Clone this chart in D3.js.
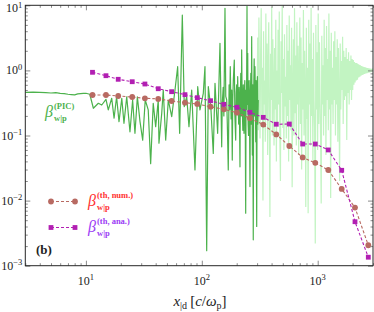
<!DOCTYPE html>
<html>
<head>
<meta charset="utf-8">
<script src="https://cdn.jsdelivr.net/npm/d3@7"></script>
<style>
  body { margin: 0; background: #fff; }
  svg { display: block; }
</style>
</head>
<body>
<div id="chart"></div>
<script>
// theory curves (same x grid)
const xTheory = [11.4, 14.9, 19.0, 25.1, 32.3, 42.1, 54.9, 71.6, 91.4, 119, 155, 201, 260, 339, 439, 569, 742, 953, 1234, 1611, 2098, 2733];
const betaNum = [0.419, 0.419, 0.404, 0.390, 0.373, 0.364, 0.339, 0.319, 0.305, 0.277, 0.253, 0.224, 0.184, 0.147, 0.104, 0.069, 0.046, 0.038, 0.0295, 0.0151, 0.0078, 0.00206];
const betaAna = [0.935, 0.829, 0.730, 0.670, 0.618, 0.523, 0.471, 0.424, 0.381, 0.342, 0.301, 0.271, 0.227, 0.190, 0.149, 0.150, 0.074, 0.074, 0.060, 0.0292, 0.00474, 0.00135];

// PIC, dark part (x < ~300)
const picDarkX = [3, 3.5, 4, 4.5, 5, 5.5, 6, 6.5, 7, 7.5, 8, 8.5, 9, 9.5, 10, 10.8,
  11.6, 12.8, 13.7, 14.9, 15.6, 16.7, 17.5, 18.4, 19.3, 20.4,
  21.3, 22.5, 24.0, 25.3, 26.5, 27.8, 29.3, 30.9, 32.5, 34.5,
  36.2, 38.1, 40.0, 42.1, 42.7, 45.1, 46.5, 48.8, 51.4, 55.0,
  58.7, 61.9, 64.4, 67.9, 70.6, 74.1, 77.5, 81.8, 87.3, 92.2,
  96.4, 103, 106.5, 110.2, 113.8, 120, 125.6, 130, 137, 143.5,
  148.5, 150, 153, 155, 158.5, 161, 164, 166, 169.2, 172,
  174, 176.1, 179, 181, 183.2, 185, 187, 190.7, 193, 196.1,
  198, 200, 202, 204, 206, 208, 210, 213.5, 215, 217,
  219, 220.8, 223, 226, 228, 231.2, 233, 235, 237, 239.2,
  241, 243, 245.5, 247, 249, 251, 253, 254.5, 256, 258,
  260.4, 262.5, 265, 267, 269.4, 271, 273, 275, 278, 280,
  283, 285, 287.7, 290, 292, 294, 297.6, 300, 302, 304, 307];
const picDarkY = [0.46, 0.465, 0.46, 0.455, 0.45, 0.455, 0.445, 0.44, 0.43, 0.425, 0.42, 0.435, 0.44, 0.445, 0.445, 0.43,
  0.262, 0.313, 0.294, 0.36, 0.247, 0.373, 0.184, 0.394, 0.163, 0.373,
  0.154, 0.394, 0.114, 0.351, 0.108, 0.394, 0.163, 0.085, 0.351, 0.247,
  0.037, 0.313, 0.137, 0.351, 0.076, 0.219, 0.5, 0.085, 0.351, 0.195,
  0.5, 1.14, 0.108, 7.1, 0.277, 0.394, 0.137, 0.5, 0.0295, 0.562,
  0.247, 0.445, 1.14, 0.0017, 0.562, 0.247, 0.053, 0.634, 0.108, 2.61,
  0.067, 0.3, 0.55, 0.2, 9.0, 0.4, 0.351, 0.15, 0.0295, 0.6,
  0.25, 1.14, 0.18, 0.5, 0.042, 0.35, 0.7, 1.445, 0.2, 0.085,
  0.45, 0.6, 0.25, 0.8, 0.3, 0.15, 0.55, 0.033, 0.4, 0.9,
  0.2, 2.06, 0.3, 0.12, 0.6, 0.108, 0.45, 0.7, 0.2, 0.0064,
  0.5, 0.25, 9.6, 0.3, 1.83, 0.15, 0.1, 0.6, 0.7, 0.2,
  0.0164, 0.45, 0.9, 0.15, 3.3, 0.3, 0.05, 0.6, 0.0025, 0.4,
  1.5, 0.2, 1.14, 0.35, 0.08, 0.7, 0.004, 0.5, 0.8, 0.15, 0.351];

// PIC, light part (x > ~300)
const picLightX = [300, 303.5, 307, 311, 314.5, 318, 322, 325.5, 329.5, 333,
  337, 341, 345, 349, 353, 357, 361, 365, 370, 374,
  378, 383, 387, 392, 396, 401, 406, 410, 415, 420,
  425, 430, 435, 440, 445, 450, 455, 461, 466, 471,
  477, 483, 488, 494, 500, 505, 511, 517, 523, 530,
  536, 542, 548, 555, 561, 568, 575, 581, 588, 595,
  602, 609, 617, 624, 631, 639, 646, 654, 661, 669,
  677, 685, 693, 701, 710, 718, 727, 735, 744, 753,
  762, 771, 780, 789, 798, 808, 817, 827, 837, 847,
  857, 867, 877, 888, 898, 909, 920, 930, 941, 953,
  964, 975, 987, 999, 1010, 1022, 1035, 1047, 1059, 1072,
  1085, 1097, 1110, 1124, 1137, 1150, 1164, 1178, 1192, 1206,
  1220, 1235, 1249, 1264, 1279, 1294, 1310, 1325, 1341, 1357,
  1373, 1390, 1406, 1423, 1440, 1457, 1474, 1492, 1509, 1527,
  1545, 1564, 1582, 1601, 1620, 1640, 1659, 1679, 1699, 1719,
  1740, 1760, 1781, 1802, 1824, 1846, 1868, 1890, 1912, 1935,
  1958, 1981, 2005, 2029, 2053, 2077, 2102, 2127, 2152, 2178,
  2204, 2230, 2257, 2283, 2311, 2338, 2366, 2394, 2423, 2451,
  2481, 2510, 2540, 2570, 2601, 2632, 2663, 2695, 2727, 2760,
  2792, 2826, 2859, 2894, 2928, 2963, 3000];
const picLightY = [0.35, 3.2, 0.12, 6.5, 0.4, 0.09, 2.1, 9.0, 0.2, 1.1,
  0.010, 4.0, 0.3, 0.7, 0.08, 7.5, 0.18, 2.6, 0.05, 1.4,
  5.5, 0.14, 0.0056, 1.8, 0.35, 9.5, 0.1, 3.0, 0.6, 0.07,
  2.2, 0.25, 6.0, 0.04, 1.0, 0.16, 4.2, 0.3, 8.0, 0.11,
  0.02, 2.8, 0.45, 9.8, 0.13, 1.5, 0.06, 3.6, 0.28, 0.8,
  0.09, 5.0, 0.2, 2.0, 0.04, 7.0, 0.35, 1.2, 0.12, 4.5,
  0.016, 0.5, 3.0, 0.1, 9.0, 0.22, 1.7, 0.07, 5.5, 0.3,
  2.4, 0.05, 0.9, 6.5, 0.15, 3.2, 0.03, 1.3, 0.25, 8.5,
  0.1, 2.0, 0.4, 0.008, 4.5, 0.18, 1.1, 0.0064, 6.0, 0.3,
  2.6, 0.07, 9.2, 0.2, 1.5, 0.04, 3.8, 0.35, 0.12, 0.0022,
  5.0, 0.25, 1.9, 0.06, 7.5, 0.15, 2.7, 0.4, 0.09, 0.009,
  3.4, 0.3, 1.2, 0.1, 6.0, 0.2, 2.2, 0.05, 4.8, 0.35,
  1.5, 0.12, 7.5, 0.25, 2.0, 0.011, 3.8, 0.3, 1.1, 0.15,
  2.8, 0.35, 4.0, 0.1, 1.6, 0.3, 3.0, 0.08, 2.2, 0.4,
  0.02, 2.6, 0.25, 1.4, 0.5, 3.3, 0.15, 2.0, 0.35, 1.6,
  0.4, 2.2, 0.085, 1.5, 0.45, 1.9, 0.3, 1.4, 0.5, 1.7,
  0.35, 1.5, 0.5, 1.45, 0.6, 1.35, 0.65, 1.3, 0.7, 1.3,
  0.72, 1.25, 0.78, 1.22, 0.8, 1.2, 0.83, 1.17, 0.85, 1.15,
  0.87, 1.13, 0.88, 1.12, 0.9, 1.1, 0.91, 1.09, 0.92, 1.08,
  0.93, 1.07, 0.94, 1.06, 0.95, 1.04, 1.0];

const xMajor = [10, 100, 1000];
const xMajorExp = ["1", "2", "3"];
const yMajor = [0.001, 0.01, 0.1, 1, 10];
const yMajorExp = ["\u22123", "\u22122", "\u22121", "0", "1"];

const width = 374, height = 312;
const plotLeft = 25.3, plotRight = 373, plotTop = 5.3, plotBottom = 265.7;

const svg = d3.select("#chart").append("svg")
    .attr("width", width)
    .attr("height", height);

const x = d3.scaleLog().domain([3, 3000]).range([plotLeft, plotRight]);
const y = d3.scaleLog().domain([0.001, 10]).range([plotBottom, plotTop]);

svg.append("clipPath").attr("id", "clip")
    .append("rect")
    .attr("x", plotLeft).attr("y", plotTop)
    .attr("width", plotRight - plotLeft).attr("height", plotBottom - plotTop);

const plot = svg.append("g").attr("clip-path", "url(#clip)");

const line = d3.line().x(d => x(d[0])).y(d => y(d[1]));

plot.append("path")
    .datum(d3.zip(picLightX, picLightY))
    .attr("d", line)
    .attr("fill", "none")
    .attr("stroke", "#c2f4c2")
    .attr("stroke-width", 1.2);

plot.append("path")
    .datum(d3.zip(picDarkX, picDarkY))
    .attr("d", line)
    .attr("fill", "none")
    .attr("stroke", "#4cb24c")
    .attr("stroke-width", 1.2)
    .attr("stroke-linejoin", "round");

const numColor = "#b86a62", anaColor = "#b21fb2";

plot.append("path")
    .datum(d3.zip(xTheory, betaNum))
    .attr("d", line)
    .attr("fill", "none")
    .attr("stroke", numColor)
    .attr("stroke-width", 1.1)
    .attr("stroke-dasharray", "3,2");

plot.selectAll(".num").data(d3.zip(xTheory, betaNum)).enter()
    .append("circle")
    .attr("cx", d => x(d[0]))
    .attr("cy", d => y(d[1]))
    .attr("r", 2.9)
    .attr("fill", numColor);

plot.append("path")
    .datum(d3.zip(xTheory, betaAna))
    .attr("d", line)
    .attr("fill", "none")
    .attr("stroke", anaColor)
    .attr("stroke-width", 1.1)
    .attr("stroke-dasharray", "3,2");

plot.selectAll(".ana").data(d3.zip(xTheory, betaAna)).enter()
    .append("rect")
    .attr("x", d => x(d[0]) - 2.4)
    .attr("y", d => y(d[1]) - 2.4)
    .attr("width", 4.8)
    .attr("height", 4.8)
    .attr("fill", anaColor);

// axes: inward ticks on all four sides
const xMinor = x.ticks().filter(v => xMajor.indexOf(v) < 0);
const yMinor = y.ticks().filter(v => yMajor.indexOf(v) < 0);

function styleAxis(g) {
    g.select(".domain").remove();
    g.selectAll("line").attr("stroke", "#8a8a8a");
}

svg.append("g").attr("transform", `translate(0,${plotBottom})`)
    .call(d3.axisBottom(x).tickValues(xMajor).tickSize(-5).tickFormat("")).call(styleAxis);
svg.append("g").attr("transform", `translate(0,${plotBottom})`)
    .call(d3.axisBottom(x).tickValues(xMinor).tickSize(-2.5).tickFormat("")).call(styleAxis);
svg.append("g").attr("transform", `translate(0,${plotTop})`)
    .call(d3.axisTop(x).tickValues(xMajor).tickSize(-5).tickFormat("")).call(styleAxis);
svg.append("g").attr("transform", `translate(0,${plotTop})`)
    .call(d3.axisTop(x).tickValues(xMinor).tickSize(-2.5).tickFormat("")).call(styleAxis);
svg.append("g").attr("transform", `translate(${plotLeft},0)`)
    .call(d3.axisLeft(y).tickValues(yMajor).tickSize(-5).tickFormat("")).call(styleAxis);
svg.append("g").attr("transform", `translate(${plotLeft},0)`)
    .call(d3.axisLeft(y).tickValues(yMinor).tickSize(-2.5).tickFormat("")).call(styleAxis);
svg.append("g").attr("transform", `translate(${plotRight},0)`)
    .call(d3.axisRight(y).tickValues(yMajor).tickSize(-5).tickFormat("")).call(styleAxis);
svg.append("g").attr("transform", `translate(${plotRight},0)`)
    .call(d3.axisRight(y).tickValues(yMinor).tickSize(-2.5).tickFormat("")).call(styleAxis);

svg.append("rect")
    .attr("x", plotLeft).attr("y", plotTop)
    .attr("width", plotRight - plotLeft).attr("height", plotBottom - plotTop)
    .attr("fill", "none")
    .attr("stroke", "#262626")
    .attr("stroke-width", 1);

const serif = "'Liberation Serif', 'DejaVu Serif', serif";

function powLabel(g, exp) {
    g.append("tspan").text("10");
    g.append("tspan").attr("dy", -4.5).attr("font-size", 8.5).text(exp);
}

xMajor.forEach((v, i) => {
    const t = svg.append("text")
        .attr("x", x(v))
        .attr("y", plotBottom + 19)
        .attr("text-anchor", "middle")
        .attr("font-family", serif)
        .attr("font-size", 12)
        .attr("fill", "#222");
    powLabel(t, xMajorExp[i]);
});

yMajor.forEach((v, i) => {
    const t = svg.append("text")
        .attr("x", plotLeft - 3)
        .attr("y", Math.max(y(v) + 4, 12))
        .attr("text-anchor", "end")
        .attr("font-family", serif)
        .attr("font-size", 12)
        .attr("fill", "#222");
    powLabel(t, yMajorExp[i]);
});

// x axis title
const xt = svg.append("text")
    .attr("x", 200)
    .attr("y", 306)
    .attr("text-anchor", "middle")
    .attr("font-family", serif)
    .attr("font-size", 15)
    .attr("fill", "#222");
xt.append("tspan").attr("font-style", "italic").text("x");
xt.append("tspan").attr("dy", 3).attr("font-size", 10).text("|d");
xt.append("tspan").attr("dy", -3).text("\u2009[");
xt.append("tspan").attr("font-style", "italic").text("c");
xt.append("tspan").text("/");
xt.append("tspan").attr("font-style", "italic").text("\u03c9");
xt.append("tspan").attr("dy", 3).attr("font-size", 10).text("p");
xt.append("tspan").attr("dy", -3).text("]");

// beta labels
function betaLabel(px, py, sup, color) {
    const g = svg.append("g").attr("fill", color).attr("font-family", serif);
    g.append("text").attr("x", px).attr("y", py)
        .attr("font-size", 16).attr("font-style", "italic").text("\u03b2");
    g.append("text").attr("x", px + 9).attr("y", py - 8)
        .attr("font-size", 8.5).attr("font-weight", "bold").text(sup);
    g.append("text").attr("x", px + 9).attr("y", py + 4)
        .attr("font-size", 8.5).attr("font-weight", "bold").text("w|p");
}

betaLabel(45, 117, "(PIC)", "#4cb24c");
betaLabel(88, 206, "(th, num.)", "#ff3030");
betaLabel(88, 232, "(th, ana.)", "#9b3cf5");

// legend samples
const legNum = [[51, 201.5], [75, 201.5]];
const legAna = [[51, 227.5], [75, 227.5]];
svg.append("path").attr("d", d3.line()(legNum))
    .attr("stroke", numColor).attr("stroke-width", 1.1).attr("stroke-dasharray", "3,2");
svg.selectAll(".legNum").data(legNum).enter().append("circle")
    .attr("cx", d => d[0]).attr("cy", d => d[1]).attr("r", 2.9).attr("fill", numColor);
svg.append("path").attr("d", d3.line()(legAna))
    .attr("stroke", anaColor).attr("stroke-width", 1.1).attr("stroke-dasharray", "3,2");
svg.selectAll(".legAna").data(legAna).enter().append("rect")
    .attr("x", d => d[0] - 2.4).attr("y", d => d[1] - 2.4)
    .attr("width", 4.8).attr("height", 4.8).attr("fill", anaColor);

svg.append("text")
    .attr("x", 36)
    .attr("y", 254)
    .attr("font-family", serif)
    .attr("font-size", 13)
    .attr("font-weight", "bold")
    .attr("fill", "#222")
    .text("(b)");
</script>
</body>
</html>
